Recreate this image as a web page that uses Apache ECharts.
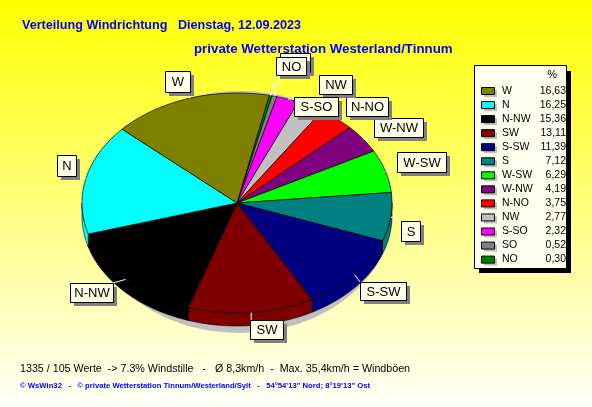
<!DOCTYPE html>
<html><head><meta charset="utf-8">
<style>html,body{margin:0;padding:0;background:#fff}#c{width:592px;height:407px}</style>
<script src="https://cdn.jsdelivr.net/npm/echarts@6/dist/echarts.min.js"></script>
</head><body><div id="c"></div>
<script>
// data, legend order
const categories = ['W','N','N-NW','SW','S-SW','S','W-SW','W-NW','N-NO','NW','S-SO','SO','NO'];
const values = [16.63,16.25,15.36,13.11,11.39,7.12,6.29,4.19,3.75,2.77,2.32,0.52,0.30];
const colors = ['#808000','#00ffff','#000000','#800000','#000080','#008080','#00ff00','#800080','#ff0000','#c0c0c0','#ff00ff','#808080','#008000'];
const titleLine1 = 'Verteilung Windrichtung   Dienstag, 12.09.2023';
const titleLine2 = 'private Wetterstation Westerland/Tinnum';
const footerLine1 = '1335 / 105 Werte  -> 7.3% Windstille   -   Ø 8,3km/h  -  Max. 35,4km/h = Windböen';
const footerLine2 = '© WsWin32   -   © private Wetterstation Tinnum/Westerland/Sylt   -   54°54\'13\'\' Nord; 8°19\'13\'\' Ost';

// layout
const CX=237, CY=203, RX=155, RY=110, DEPTH=13, START=12;
const boxes = {W:[165,71,25,21],N:[57,155,19,21],'N-NW':[70,283,43,19],SW:[250,320,33,19],'S-SW':[360,282,46,18],
  S:[401,221,19,20],'W-SW':[397,152,49,20],'W-NW':[374,118,49,19],'N-NO':[346,97,42,19],NW:[319,75,33,19],
  'S-SO':[294,97,44,19],SO:[280,53,30,19],NO:[276,57,30,18]};
const font='"Liberation Sans",Arial,sans-serif';

const total = values.reduce((a,b)=>a+b,0);
// slices run clockwise from the smallest
const slices = categories.map((n,i)=>({name:n,value:values[i],color:colors[i]})).reverse();
let acc=0;
slices.forEach(s=>{s.a0=START+acc/total*360; acc+=s.value; s.a1=START+acc/total*360; s.mid=(s.a0+s.a1)/2;});
const labelOrder = slices.slice().reverse();
const pt=(a,dy)=>{const r=a*Math.PI/180;return [CX+RX*Math.sin(r),CY-RY*Math.cos(r)+(dy||0)];};
const arc=(a0,a1,dy)=>{const p=[];const n=Math.max(2,Math.ceil((a1-a0)/1.5));for(let i=0;i<=n;i++)p.push(pt(a0+(a1-a0)*i/n,dy));return p;};

function renderSlice(params){
  const s=slices[params.dataIndex], ch=[];
  const f0=Math.max(s.a0,90), f1=Math.min(s.a1,270);
  if(f1>f0){
    const top=arc(f0,f1,0), bot=arc(f0,f1,DEPTH).reverse();
    ch.push({type:'polygon',shape:{points:top.concat(bot)},style:{fill:s.color,stroke:'#000',lineWidth:0.6}});
  }
  ch.push({type:'polygon',shape:{points:[[CX,CY]].concat(arc(s.a0,s.a1,0))},style:{fill:s.color,stroke:'#000',lineWidth:0.7}});
  return {type:'group',children:ch};
}
function renderLabel(params){
  const s=labelOrder[params.dataIndex], b=boxes[s.name], p=pt(s.mid,0), ch=[];
  const ax=Math.max(b[0],Math.min(b[0]+b[2],p[0])), ay=Math.max(b[1],Math.min(b[1]+b[3],p[1]));
  ch.push({type:'line',shape:{x1:p[0],y1:p[1],x2:ax,y2:ay},style:{stroke:'#fff',lineWidth:1}});
  ch.push({type:'rect',shape:{x:b[0]+4,y:b[1]+4,width:b[2],height:b[3]},style:{fill:'#808080'}});
  ch.push({type:'rect',shape:{x:b[0]+.5,y:b[1]+.5,width:b[2],height:b[3]},style:{fill:'#ffffe8',stroke:'#000',lineWidth:1}});
  ch.push({type:'text',style:{x:b[0]+b[2]/2+.5,y:b[1]+b[3]/2+1,text:s.name,align:'center',verticalAlign:'middle',font:'13px '+font,fill:'#000'}});
  return {type:'group',children:ch};
}

const g=[];
const T=(x,y,text,font_,fill,align)=>g.push({type:'text',x,y,style:{text,font:font_,fill:fill||'#000',align:align||'left',verticalAlign:'middle'},z:20});
T(22,26,titleLine1,'bold 12.6px '+font,'#0000ff');
T(194,49,titleLine2,'bold 13.3px '+font,'#0000ff');
T(20,369,footerLine1,'10.7px '+font,'#000');
T(20,386,footerLine2,'bold 7.7px '+font,'#0000ff');
// legend panel
g.push({type:'rect',shape:{x:479,y:71,width:92,height:202},style:{fill:'#000'},z:10});
g.push({type:'rect',shape:{x:474.5,y:65.5,width:92,height:203},style:{fill:'#fffff0',stroke:'#000',lineWidth:1},z:11});
T(557,75,'%','11px '+font,'#000','right');
categories.forEach((n,i)=>{
  const y=87+i*14.05;
  g.push({type:'rect',shape:{x:484,y:y+3,width:13,height:7},style:{fill:'#c0c0c0'},z:12});
  g.push({type:'rect',shape:{x:481.5,y:y+.5,width:13,height:7},style:{fill:colors[i],stroke:'#000',lineWidth:1},z:13});
  T(502,y+4,n,'10.5px '+font,'#000');
  T(566,y+4,values[i].toFixed(2).replace('.',','),'10.5px '+font,'#000','right');
});

const chart=echarts.init(document.getElementById('c'),null,{renderer:'canvas'});
chart.setOption({
  animation:false,
  backgroundColor:{type:'linear',x:0,y:0,x2:0,y2:1,colorStops:[{offset:0,color:'#ffff00'},{offset:1,color:'#fffff8'}]},
  graphic:g,
  series:[
    {type:'custom',coordinateSystem:'none',silent:true,z:1,data:[0],renderItem:()=>({type:'ellipse',shape:{cx:CX+3,cy:CY+9,rx:RX-3,ry:RY+11},style:{fill:'#c0c0c0'}})},
    {type:'custom',coordinateSystem:'none',silent:true,z:2,data:slices.map(s=>({name:s.name,value:s.value})),renderItem:renderSlice},
    {type:'custom',coordinateSystem:'none',silent:true,z:3,data:labelOrder.map(s=>({name:s.name,value:s.value})),renderItem:renderLabel}
  ]
});
</script></body></html>
